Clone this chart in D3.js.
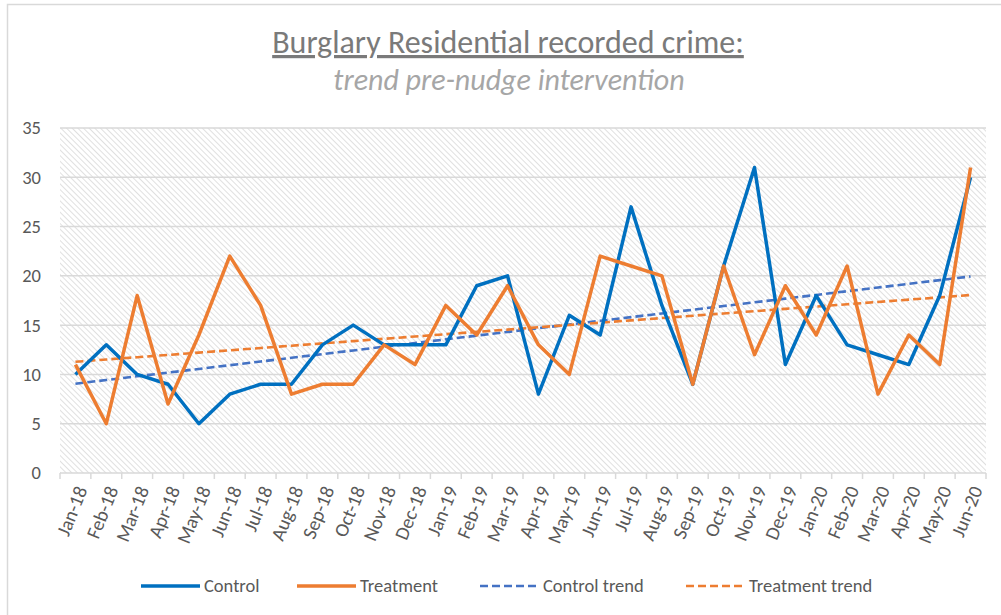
<!DOCTYPE html>
<html>
<head>
<meta charset="utf-8">
<script src="https://cdn.jsdelivr.net/npm/d3@7"></script>
<style>
  body { margin: 0; background: #fff; }
  svg text { font-family: Calibri, Carlito, Lato, "Open Sans", sans-serif; }
</style>
</head>
<body>
<div id="chart"></div>
<script>
var months = ["Jan-18","Feb-18","Mar-18","Apr-18","May-18","Jun-18","Jul-18","Aug-18","Sep-18","Oct-18","Nov-18","Dec-18",
  "Jan-19","Feb-19","Mar-19","Apr-19","May-19","Jun-19","Jul-19","Aug-19","Sep-19","Oct-19","Nov-19","Dec-19",
  "Jan-20","Feb-20","Mar-20","Apr-20","May-20","Jun-20"];
var control = [10,13,10,9,5,8,9,9,13,15,13,13,13,19,20,8,16,14,27,17,9,21,31,11,18,13,12,11,18,30];
var treatment = [11,5,18,7,14,22,17,8,9,9,13,11,17,14,19,13,10,22,21,20,9,21,12,19,14,21,8,14,11,31];
var yTicks = [0,5,10,15,20,25,30,35];

var totalWidth = 1001, totalHeight = 615;
var margin = { top: 128, left: 60, bottom: 142, right: 15 };
var width = totalWidth - margin.left - margin.right;
var height = totalHeight - margin.top - margin.bottom;

var colors = { control: "#0070C0", treatment: "#ED7D31", controlTrend: "#4472C4", treatmentTrend: "#ED7D31" };

// least squares trend, like the Excel linear trendline
function trend(values) {
  var n = values.length, mx = (n - 1) / 2, my = d3.mean(values);
  var sxy = d3.sum(values, function (v, i) { return (i - mx) * (v - my); });
  var sxx = d3.sum(values, function (v, i) { return (i - mx) * (i - mx); });
  var b = sxy / sxx, a = my - b * mx;
  return values.map(function (v, i) { return a + b * i; });
}

var svg = d3.select("#chart").append("svg")
  .attr("width", totalWidth)
  .attr("height", totalHeight);

// chart border
svg.append("rect")
  .attr("x", 7.5).attr("y", 4.5)
  .attr("width", totalWidth + 20).attr("height", totalHeight + 20)
  .attr("fill", "#fff").attr("stroke", "#d9d9d9").attr("stroke-width", 1.5);

var defs = svg.append("defs");
var pat = defs.append("pattern")
  .attr("id", "hatch")
  .attr("patternUnits", "userSpaceOnUse")
  .attr("width", 4).attr("height", 4)
  .attr("patternTransform", "rotate(-45)");
pat.append("rect").attr("width", 4).attr("height", 4).attr("fill", "#fff");
pat.append("line")
  .attr("x1", 0).attr("y1", 0).attr("x2", 0).attr("y2", 4)
  .attr("stroke", "#cccccc").attr("stroke-width", 1.2);

// title
svg.append("text")
  .attr("x", 508).attr("y", 53)
  .attr("text-anchor", "middle")
  .attr("font-size", 32)
  .attr("fill", "#7a7a7a")
  .attr("text-decoration", "underline")
  .text("Burglary Residential recorded crime:");
svg.append("text")
  .attr("x", 509).attr("y", 90)
  .attr("text-anchor", "middle")
  .attr("font-size", 30)
  .attr("font-style", "italic")
  .attr("font-weight", 300)
  .attr("fill", "#a6a6a6")
  .text("trend pre-nudge intervention");

var g = svg.append("g")
  .attr("transform", "translate(" + margin.left + "," + margin.top + ")");

var xScale = d3.scaleBand().domain(months).range([0, width]).paddingInner(0).paddingOuter(0);
var xMid = function (d) { return xScale(d) + xScale.bandwidth() / 2; };
var yScale = d3.scaleLinear().domain([0, 35]).range([height, 0]);

g.append("rect")
  .attr("width", width).attr("height", height)
  .attr("fill", "url(#hatch)");

// gridlines
g.selectAll(".grid").data(yTicks.slice(1)).enter().append("line")
  .attr("class", "grid")
  .attr("x1", 0).attr("x2", width)
  .attr("y1", function (d) { return yScale(d); })
  .attr("y2", function (d) { return yScale(d); })
  .attr("stroke", "#d9d9d9").attr("stroke-width", 1.5);

// y axis labels
var yAxis = d3.axisLeft(yScale).tickValues(yTicks).tickSize(0).tickPadding(19);
var yAxisGroup = g.append("g").call(yAxis);
yAxisGroup.select(".domain").remove();
yAxisGroup.attr("font-family", null);
yAxisGroup.selectAll("text")
  .attr("font-size", 18.5).attr("fill", "#595959");

// x axis
var xAxisGroup = g.append("g").attr("transform", "translate(0," + height + ")");
xAxisGroup.append("line")
  .attr("x1", 0).attr("x2", width).attr("y1", 0).attr("y2", 0)
  .attr("stroke", "#d9d9d9").attr("stroke-width", 1.5);
var bounds = months.map(function (d) { return xScale(d); }).concat([width]);
xAxisGroup.selectAll(".tickmark").data(bounds).enter().append("line")
  .attr("class", "tickmark")
  .attr("x1", function (d) { return d; }).attr("x2", function (d) { return d; })
  .attr("y1", 0).attr("y2", 6)
  .attr("stroke", "#d9d9d9").attr("stroke-width", 1.5);
xAxisGroup.selectAll(".xlabel").data(months).enter().append("text")
  .attr("class", "xlabel")
  .attr("text-anchor", "end")
  .attr("font-size", 19.5)
  .attr("fill", "#595959")
  .attr("transform", function (d) {
    return "translate(" + (xMid(d) + 6) + ",14) rotate(-68)";
  })
  .attr("dy", "0.35em")
  .text(function (d) { return d; });

var line = d3.line()
  .x(function (d, i) { return xMid(months[i]); })
  .y(function (d) { return yScale(d); });

var series = [
  { name: "Control trend", values: trend(control), color: colors.controlTrend, dash: "8,4", w: 2.6 },
  { name: "Treatment trend", values: trend(treatment), color: colors.treatmentTrend, dash: "8,4", w: 2.6 },
  { name: "Control", values: control, color: colors.control, dash: null, w: 3.5 },
  { name: "Treatment", values: treatment, color: colors.treatment, dash: null, w: 3.5 }
];

g.selectAll(".series").data(series).enter().append("path")
  .attr("class", "series")
  .attr("d", function (d) { return line(d.values); })
  .attr("fill", "none")
  .attr("stroke", function (d) { return d.color; })
  .attr("stroke-width", function (d) { return d.w; })
  .attr("stroke-dasharray", function (d) { return d.dash; })
  .attr("stroke-linejoin", "round");

// legend
var legendOrder = [series[2], series[3], series[0], series[1]];
var legendX = [141, 297, 480, 686];
var legend = svg.append("g").attr("transform", "translate(0,586)");
legend.selectAll(".item").data(legendOrder).enter().append("g")
  .attr("class", "item")
  .attr("transform", function (d, i) { return "translate(" + legendX[i] + ",0)"; })
  .each(function (d) {
    var item = d3.select(this);
    item.append("line")
      .attr("x1", 0).attr("x2", 59).attr("y1", 0).attr("y2", 0)
      .attr("stroke", d.color)
      .attr("stroke-width", d.dash ? 2.6 : 3.5)
      .attr("stroke-dasharray", d.dash);
    item.append("text")
      .attr("x", 63).attr("dy", "0.35em")
      .attr("font-size", 18.5).attr("fill", "#595959")
      .text(d.name);
  });
</script>
</body>
</html>
